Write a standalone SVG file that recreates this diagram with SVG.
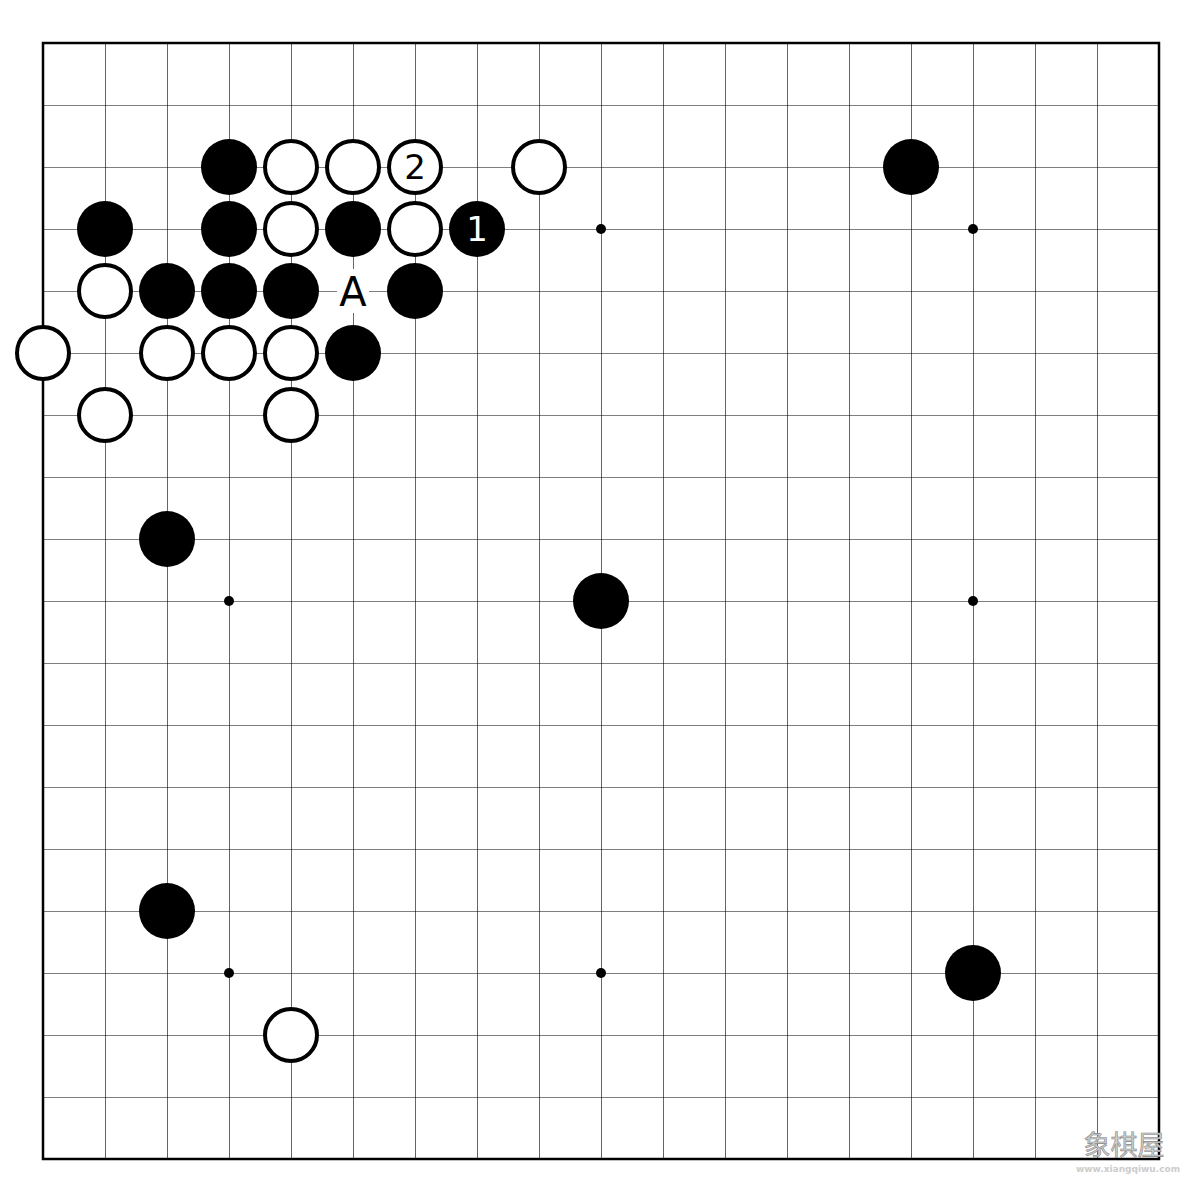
<svg xmlns="http://www.w3.org/2000/svg" width="1200" height="1190" viewBox="0 0 1200 1190">
<defs>
<style>
.b{fill:#000}
.w{fill:#fff;stroke:#000;stroke-width:4}
.t{font-family:"DejaVu Sans",sans-serif;text-anchor:middle}
</style>
<pattern id="grid" x="43" y="43" width="62" height="62" patternUnits="userSpaceOnUse">
<path d="M0 0H62M0 0V62" stroke="#000" stroke-width="1.2" fill="none"/>
</pattern>
</defs>
<rect width="1200" height="1190" fill="#fff"/>
<g id="board">
<rect x="43" y="43" width="1116" height="1116" fill="url(#grid)"/>
<rect x="43" y="43" width="1116" height="1116" fill="none" stroke="#000" stroke-width="2.5"/>
<g class="b">
<circle cx="229" cy="229" r="5"/><circle cx="601" cy="229" r="5"/><circle cx="973" cy="229" r="5"/>
<circle cx="229" cy="601" r="5"/><circle cx="601" cy="601" r="5"/><circle cx="973" cy="601" r="5"/>
<circle cx="229" cy="973" r="5"/><circle cx="601" cy="973" r="5"/><circle cx="973" cy="973" r="5"/>
</g>
</g>
<g id="black-stones" class="b">
<circle cx="229" cy="167" r="28"/>
<circle cx="911" cy="167" r="28"/>
<circle cx="105" cy="229" r="28"/>
<circle cx="229" cy="229" r="28"/>
<circle cx="353" cy="229" r="28"/>
<circle cx="167" cy="291" r="28"/>
<circle cx="229" cy="291" r="28"/>
<circle cx="291" cy="291" r="28"/>
<circle cx="415" cy="291" r="28"/>
<circle cx="353" cy="353" r="28"/>
<circle cx="167" cy="539" r="28"/>
<circle cx="601" cy="601" r="28"/>
<circle cx="167" cy="911" r="28"/>
<circle cx="973" cy="973" r="28"/>
</g>
<g id="white-stones" class="w">
<circle cx="291" cy="167" r="26"/>
<circle cx="353" cy="167" r="26"/>
<circle cx="539" cy="167" r="26"/>
<circle cx="291" cy="229" r="26"/>
<circle cx="415" cy="229" r="26"/>
<circle cx="105" cy="291" r="26"/>
<circle cx="43" cy="353" r="26"/>
<circle cx="167" cy="353" r="26"/>
<circle cx="229" cy="353" r="26"/>
<circle cx="291" cy="353" r="26"/>
<circle cx="105" cy="415" r="26"/>
<circle cx="291" cy="415" r="26"/>
<circle cx="291" cy="1035" r="26"/>
</g>
<g id="move-2">
<circle class="w" cx="415" cy="167" r="26"/>
<text class="t" x="415" y="179" font-size="34" fill="#000">2</text>
</g>
<g id="move-1">
<circle class="b" cx="477" cy="229" r="28"/>
<text class="t" x="477" y="241" font-size="34" fill="#fff">1</text>
</g>
<g id="label-A">
<rect x="337" y="269" width="32" height="44" fill="#fff"/>
<text class="t" x="353" y="306" font-size="40" fill="#000">A</text>
</g>
<g id="watermark">
<text x="1124" y="1155" font-size="27" text-anchor="middle" fill="#cfcfcf" stroke="#888" stroke-width="0.6" font-family="'Noto Sans CJK SC',sans-serif">象棋屋</text>
<text x="1128" y="1172" font-size="9" text-anchor="middle" font-family="'DejaVu Sans',sans-serif" font-weight="bold" fill="#ccc">www.xiangqiwu.com</text>
</g>
</svg>
